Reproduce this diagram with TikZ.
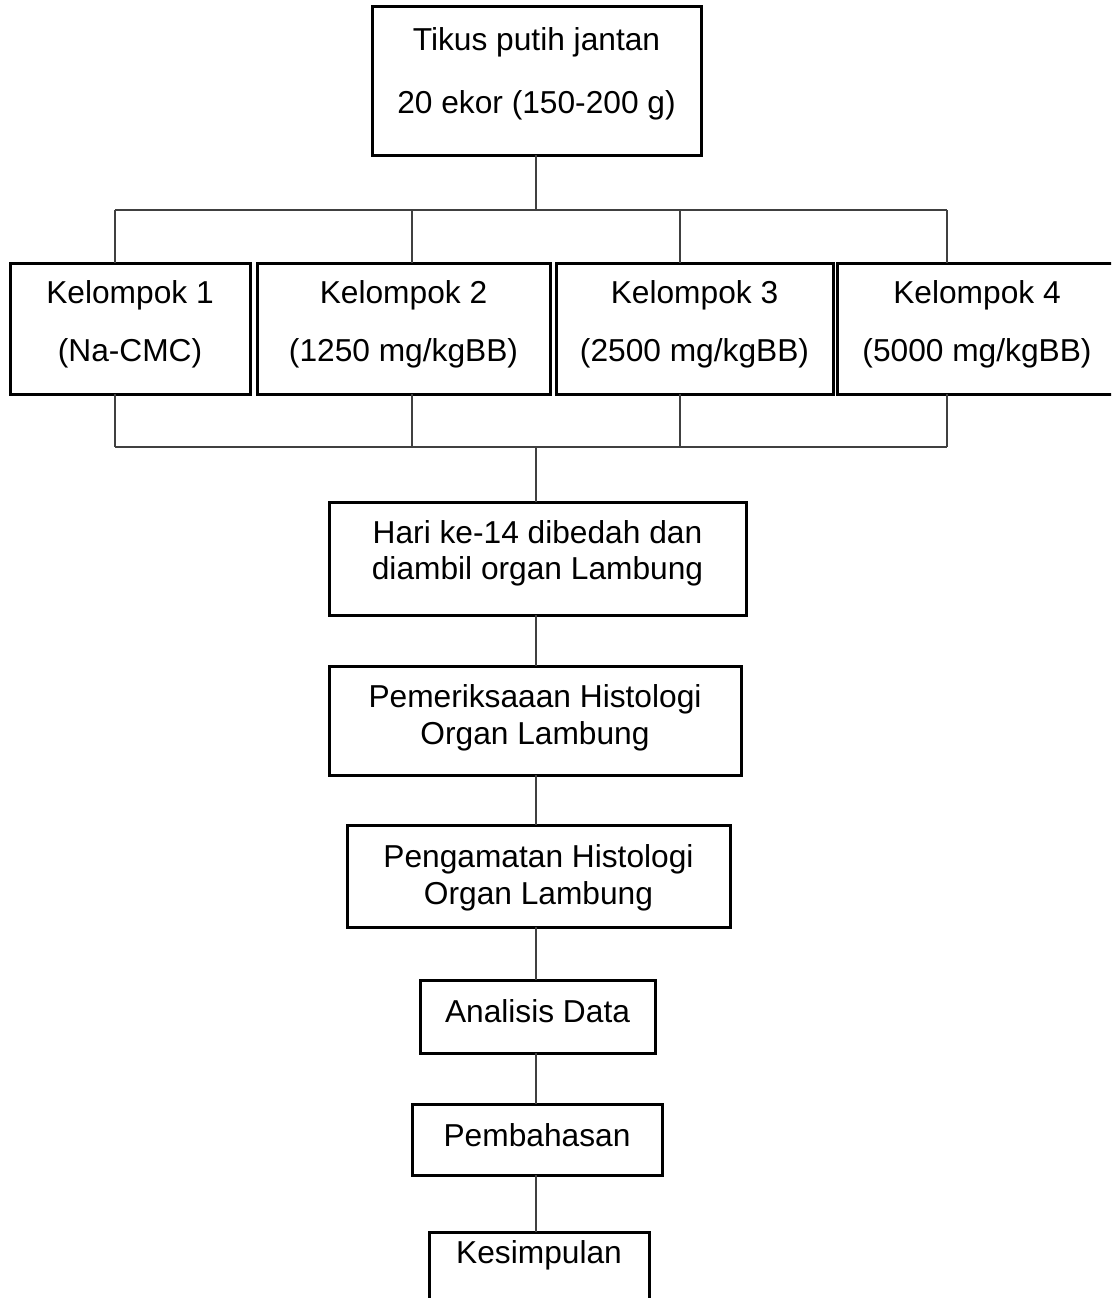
\documentclass[tikz,border=0pt]{standalone}
\usepackage{fontspec}
\setmainfont{Liberation Sans}
\begin{document}
\begin{tikzpicture}[x=1pt,y=-1pt,
  box/.style={draw=black,line width=3pt,rectangle,inner sep=0pt,outer sep=0pt},
  txt/.style={anchor=base,inner sep=0pt,font=\fontsize{31.7}{36}\selectfont},
  conn/.style={draw=black!75,line width=1.1pt}]
\useasboundingbox (0,0) rectangle (1111,1298);
\clip (0,0) rectangle (1111,1298);
% boxes
\node[box,minimum width=329pt,minimum height=148pt] (top) at (536.5,81) {};
\node[box,minimum width=240pt,minimum height=131pt] (k1) at (130,328.5) {};
\node[box,minimum width=293pt,minimum height=131pt] (k2) at (403.5,328.5) {};
\node[box,minimum width=277pt,minimum height=131pt] (k3) at (694.5,328.5) {};
\node[box,minimum width=280pt,minimum height=131pt] (k4) at (977,328.5) {};
\node[box,minimum width=417pt,minimum height=113pt] (hari) at (537.5,558.5) {};
\node[box,minimum width=412pt,minimum height=109pt] (pem) at (535,720.5) {};
\node[box,minimum width=383pt,minimum height=102pt] (peng) at (538.5,876) {};
\node[box,minimum width=235pt,minimum height=73pt] (anal) at (537.5,1016.5) {};
\node[box,minimum width=250pt,minimum height=71pt] (pemb) at (537,1139.5) {};
\node[box,minimum width=220pt,minimum height=100pt] (kes) at (539,1282) {};
% texts
\node[txt] (t1) at (536.5,51) {Tikus putih jantan};
\node[txt] (t2) at (536.5,113) {20 ekor (150-200 g)};
\node[txt] (k1a) at (130,303) {Kelompok 1};
\node[txt] (k1b) at (130,361) {(Na-CMC)};
\node[txt] (k2a) at (403.5,303) {Kelompok 2};
\node[txt] (k2b) at (403.5,361) {(1250 mg/kgBB)};
\node[txt] (k3a) at (694.5,303) {Kelompok 3};
\node[txt] (k3b) at (694.5,361) {(2500 mg/kgBB)};
\node[txt] (k4a) at (977,303) {Kelompok 4};
\node[txt] (k4b) at (977,361) {(5000 mg/kgBB)};
\node[txt] (h1) at (537.5,543) {Hari ke-14 dibedah dan};
\node[txt] (h2) at (537.5,579) {diambil organ Lambung};
\node[txt] (p1) at (535,707) {Pemeriksaaan Histologi};
\node[txt] (p2) at (535,744) {Organ Lambung};
\node[txt] (g1) at (538.5,867) {Pengamatan Histologi};
\node[txt] (g2) at (538.5,904) {Organ Lambung};
\node[txt] (a1) at (537.5,1022) {Analisis Data};
\node[txt] (b1) at (537,1146) {Pembahasan};
\node[txt] (s1) at (539,1263) {Kesimpulan};
% connector coordinates
\coordinate (spine) at (536,0);
\coordinate (ht) at (536,210);
\coordinate (d1) at (115,210);
\coordinate (d2) at (412,210);
\coordinate (d3) at (680,210);
\coordinate (d4) at (947,210);
\coordinate (hb) at (536,447);
\coordinate (e1) at (115,447);
\coordinate (e2) at (412,447);
\coordinate (e3) at (680,447);
\coordinate (e4) at (947,447);
% top fan-out
\draw[conn] (top.south -| spine) -- (ht);
\draw[conn] (d1) -- (d4);
\draw[conn] (d1) -- (d1 |- k1.north);
\draw[conn] (d2) -- (d2 |- k2.north);
\draw[conn] (d3) -- (d3 |- k3.north);
\draw[conn] (d4) -- (d4 |- k4.north);
% fan-in
\draw[conn] (e1 |- k1.south) -- (e1);
\draw[conn] (e2 |- k2.south) -- (e2);
\draw[conn] (e3 |- k3.south) -- (e3);
\draw[conn] (e4 |- k4.south) -- (e4);
\draw[conn] (e1) -- (e4);
\draw[conn] (hb) -- (hari.north -| spine);
% chain
\draw[conn] (hari.south -| spine) -- (pem.north -| spine);
\draw[conn] (pem.south -| spine) -- (peng.north -| spine);
\draw[conn] (peng.south -| spine) -- (anal.north -| spine);
\draw[conn] (anal.south -| spine) -- (pemb.north -| spine);
\draw[conn] (pemb.south -| spine) -- (kes.north -| spine);
\end{tikzpicture}
\end{document}
